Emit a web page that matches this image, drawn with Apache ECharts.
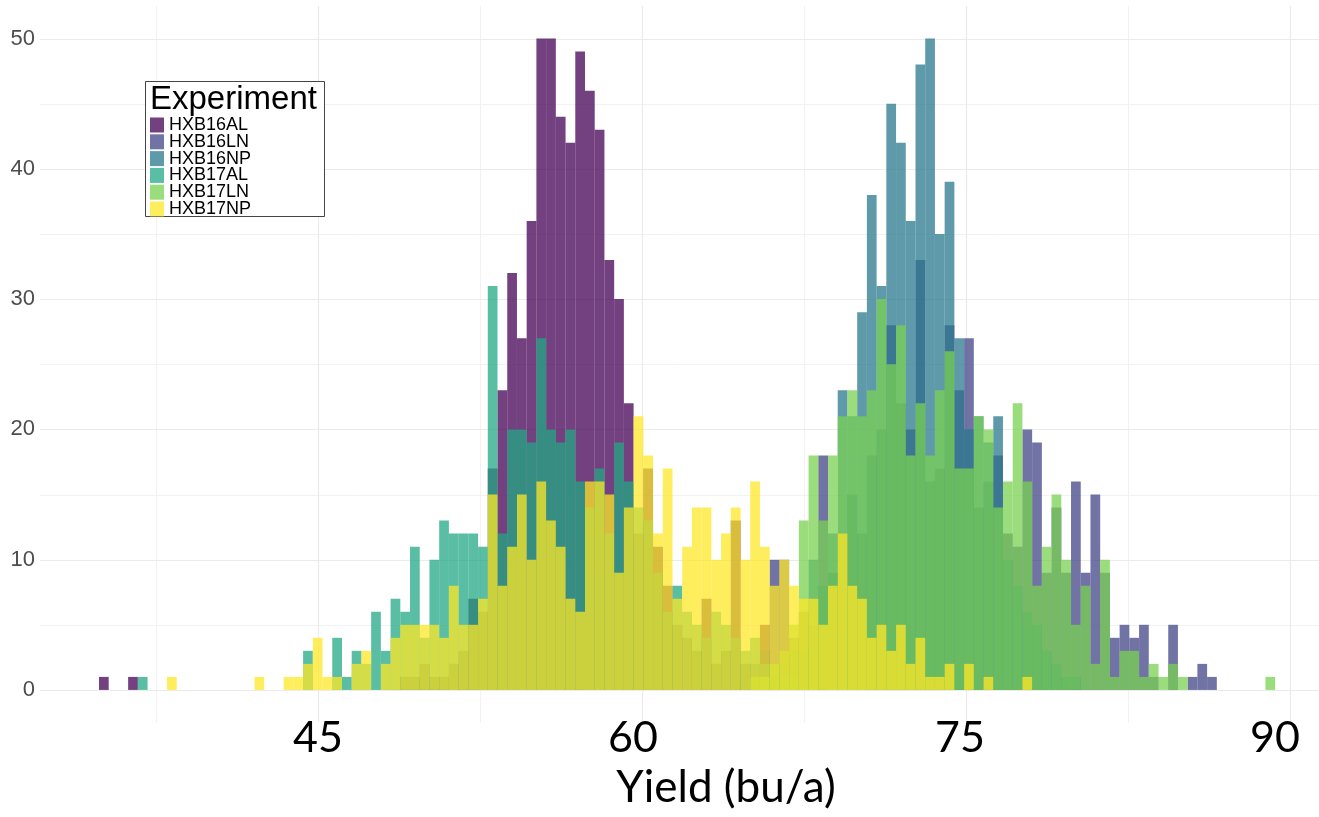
<!DOCTYPE html>
<html>
<head>
<meta charset="utf-8">
<script src="https://cdn.jsdelivr.net/npm/echarts@6/dist/echarts.min.js"></script>
<style>
html,body{margin:0;padding:0;background:#fff;overflow:hidden;width:1319px;height:817px;}
#chart{width:1319px;height:817px;position:absolute;left:0;top:0;}
</style>
</head>
<body>
<div id="chart"></div>
<script>
// ---- data (histogram counts per bin; bins start at BIN_START, width BIN_WIDTH) ----
const BIN_START = 34.86;
const BIN_WIDTH = 0.45;
const SERIES_NAMES = ['HXB16AL','HXB16LN','HXB16NP','HXB17AL','HXB17LN','HXB17NP'];

const HXB16AL = [
 1,0,0,1,0,0,0,0,0,0,
 0,0,0,0,0,0,0,0,0,0,
 0,0,0,0,0,0,0,0,0,0,
 0,1,1,2,1,1,2,3,7,6,
 17,23,32,27,36,50,50,44,42,49,
 46,43,33,30,22,12,17,11,8,5,
 4,3,7,2,3,13,2,1,5,1,
 0,0,0,0,0,0,0,0,0,0,
 0,0,0,0,0,0,0,0,0,0,
 0,0,0,0,0,0,0,0,0,0,
 0,0,0,0,0,0,0,0,0,0,
 0,0,0,0,0,0,0,0,0,0,
 0];
const HXB16LN = [
 0,0,0,0,0,0,0,0,0,0,
 0,0,0,0,0,0,0,0,0,0,
 0,0,0,0,0,0,0,0,0,0,
 0,0,0,0,0,0,0,0,0,0,
 0,0,0,0,0,0,0,0,0,0,
 0,0,0,0,0,0,0,0,0,0,
 0,0,0,0,0,0,1,2,3,10,
 10,4,6,5,18,9,12,15,12,18,
 20,28,22,20,33,16,17,28,23,27,
 14,16,18,12,11,20,19,9,14,9,
 16,9,15,9,4,5,4,5,1,0,
 5,0,1,2,1,0,0,0,0,0,
 0];
const HXB16NP = [
 0,0,0,0,0,0,0,0,0,0,
 0,0,0,0,0,0,0,0,0,0,
 0,0,0,0,0,0,0,0,0,0,
 0,0,0,0,0,0,0,0,0,0,
 0,0,0,0,0,0,0,0,0,0,
 0,0,0,0,0,0,0,0,0,0,
 0,0,0,0,0,0,0,0,1,0,
 2,3,3,10,8,12,23,21,29,38,
 31,45,42,36,48,50,35,39,27,20,
 21,19,21,10,8,6,5,3,2,1,
 1,0,0,0,0,0,0,0,0,0,
 0,0,0,0,0,0,0,0,0,0,
 0];
const HXB17AL = [
 0,0,0,0,1,0,0,0,0,0,
 0,0,0,0,0,0,0,0,0,0,
 0,3,0,0,4,1,3,2,6,3,
 7,6,11,4,10,13,12,12,12,11,
 31,12,20,20,19,27,20,19,20,16,
 14,17,12,19,16,14,13,9,6,8,
 6,5,4,6,5,4,3,4,2,2,
 1,1,0,0,0,0,0,0,0,0,
 0,0,0,0,0,0,0,0,0,0,
 0,0,0,0,0,0,0,0,0,0,
 0,0,0,0,0,0,0,0,0,0,
 0,0,0,0,0,0,0,0,0,0,
 0];
const HXB17LN = [
 0,0,0,0,0,0,0,0,0,0,
 0,0,0,0,0,0,0,0,0,0,
 0,0,0,0,0,0,0,0,0,0,
 0,0,0,0,0,0,0,0,0,0,
 0,0,0,0,0,0,0,0,0,0,
 0,0,0,0,0,0,0,0,0,0,
 0,0,0,0,0,0,0,1,1,2,
 3,5,13,18,13,18,21,23,21,23,
 30,25,28,18,22,18,23,26,17,17,
 21,20,14,16,22,16,8,11,15,10,
 5,8,2,10,1,3,3,1,2,1,
 2,1,0,0,0,0,0,0,0,0,
 1];
const HXB17NP = [
 0,0,0,0,0,0,0,1,0,0,
 0,0,0,0,0,0,1,0,0,1,
 1,2,4,1,1,0,2,3,0,2,
 4,5,5,5,5,4,8,5,5,7,
 15,8,11,15,10,16,13,11,7,6,
 16,16,15,9,14,21,18,12,17,7,
 11,14,14,10,12,14,10,16,11,8,
 10,8,7,7,5,8,12,8,7,4,
 5,3,5,2,4,1,1,2,0,2,
 0,1,0,0,0,1,0,0,0,0,
 0,0,0,0,0,0,0,0,0,0,
 0,0,0,0,0,0,0,0,0,0,
 0];

const X_TICKS = [45, 60, 75, 90];
const X_MINOR = [37.5, 52.5, 67.5, 82.5];
const Y_TICKS = [0, 10, 20, 30, 40, 50];
const Y_MINOR = [5, 15, 25, 35, 45];

// ---- styling ----
const COLORS = ['rgba(68,1,84,0.75)','rgba(65,68,135,0.75)','rgba(42,120,142,0.75)',
                'rgba(34,168,132,0.75)','rgba(122,209,81,0.75)','rgba(253,231,37,0.75)'];
const X_MIN = 32.13, X_MAX = 91.34, Y_MIN = -2.5, Y_MAX = 52.5;

const COUNTS = [HXB16AL, HXB16LN, HXB16NP, HXB17AL, HXB17LN, HXB17NP];

function toData(arr){
  const out = [];
  arr.forEach((c, i) => { if (c > 0) out.push([BIN_START + i * BIN_WIDTH, c]); });
  return out;
}

function renderBar(params, api){
  const x0 = api.value(0), c = api.value(1);
  const p0 = api.coord([x0, c]);
  const p1 = api.coord([x0 + BIN_WIDTH, 0]);
  return {
    type: 'rect',
    shape: { x: p0[0], y: p0[1], width: p1[0] - p0[0], height: p1[1] - p0[1] },
    style: { fill: api.visual('color') }
  };
}

function renderHLine(major){
  return function(params, api){
    const cs = params.coordSys;
    const y = Math.round(api.coord([X_MIN, api.value(1)])[1]) + 0.5;
    return { type:'line', shape:{x1:cs.x, y1:y, x2:cs.x+cs.width, y2:y},
             style:{stroke: major ? '#EBEBEB' : '#F2F2F2', lineWidth: major ? 1.2 : 1} };
  };
}
function renderVLine(major){
  return function(params, api){
    const cs = params.coordSys;
    const x = Math.round(api.coord([api.value(0), 0])[0]) + 0.5;
    return { type:'line', shape:{x1:x, y1:cs.y, x2:x, y2:cs.y+cs.height},
             style:{stroke: major ? '#EBEBEB' : '#F2F2F2', lineWidth: major ? 1.2 : 1} };
  };
}

const series = [
  { type:'custom', silent:true, renderItem: renderHLine(false), data: Y_MINOR.map(v => [X_MIN, v]), z:0 },
  { type:'custom', silent:true, renderItem: renderVLine(false), data: X_MINOR.map(v => [v, 0]), z:0 },
  { type:'custom', silent:true, renderItem: renderHLine(true), data: Y_TICKS.map(v => [X_MIN, v]), z:0 },
  { type:'custom', silent:true, renderItem: renderVLine(true), data: X_TICKS.map(v => [v, 0]), z:0 }
];
SERIES_NAMES.forEach((name, k) => {
  series.push({
    type: 'custom', name: name, silent: true, z: 2,
    itemStyle: { color: COLORS[k] },
    encode: { x: 0, y: 1 },
    renderItem: renderBar,
    data: toData(COUNTS[k])
  });
});

const chart = echarts.init(document.getElementById('chart'), null,
                           { renderer: 'canvas', width: 1319, height: 817 });
chart.setOption({
  animation: false,
  backgroundColor: '#ffffff',
  grid: { left: 40, right: 0, top: 6, bottom: 94.5, containLabel: false, outerBoundsMode: 'none' },
  xAxis: {
    type: 'value', min: X_MIN, max: X_MAX,
    axisLine: { show: false }, axisTick: { show: false }, splitLine: { show: false },
    axisLabel: {
      customValues: X_TICKS, margin: 0,
      formatter: function(v){ return '{s' + v + '|' + v + '}'; },
      rich: {
        s45: { fontFamily: 'Lato', fontSize: 43, color: '#000', lineHeight: 32, padding: [0, 0, 0, 0] },
        s60: { fontFamily: 'Lato', fontSize: 43, color: '#000', lineHeight: 32, padding: [0, 18, 0, 0] },
        s75: { fontFamily: 'Lato', fontSize: 43, color: '#000', lineHeight: 32, padding: [0, 12, 0, 0] },
        s90: { fontFamily: 'Lato', fontSize: 43, color: '#000', lineHeight: 32, padding: [0, 30, 0, 0] }
      }
    }
  },
  yAxis: {
    type: 'value', min: Y_MIN, max: Y_MAX,
    axisLine: { show: false }, axisTick: { show: false }, splitLine: { show: false },
    axisLabel: { customValues: Y_TICKS, margin: 5, color: '#4D4D4D', fontSize: 22,
                 fontFamily: 'Liberation Sans' }
  },
  legend: {
    data: SERIES_NAMES.map(n => ({ name: n, icon: 'rect' })),
    orient: 'vertical', left: 150, top: 116, padding: 0,
    itemWidth: 14, itemHeight: 15, itemGap: -1.2,
    textStyle: { fontFamily: 'Liberation Sans', fontSize: 18, color: '#000', lineHeight: 15 },
    selectedMode: false, z: 6
  },
  graphic: [
    { type: 'rect', z: 5, shape: { x: 145.5, y: 81.5, width: 179, height: 135 },
      style: { fill: '#fff', stroke: '#444', lineWidth: 1 } },
    { type: 'text', z: 6, x: 150, y: 100,
      style: { text: 'Experiment', fontFamily: 'Liberation Sans', fontSize: 33, fill: '#000',
               textVerticalAlign: 'middle', textAlign: 'left' } },
    { type: 'text', z: 6, x: 726, y: 788,
      style: { text: 'Yield (bu/a)', fontFamily: 'Lato', fontSize: 44, fill: '#000',
               textVerticalAlign: 'middle', textAlign: 'center' } }
  ],
  series: series
});
</script>
</body>
</html>
